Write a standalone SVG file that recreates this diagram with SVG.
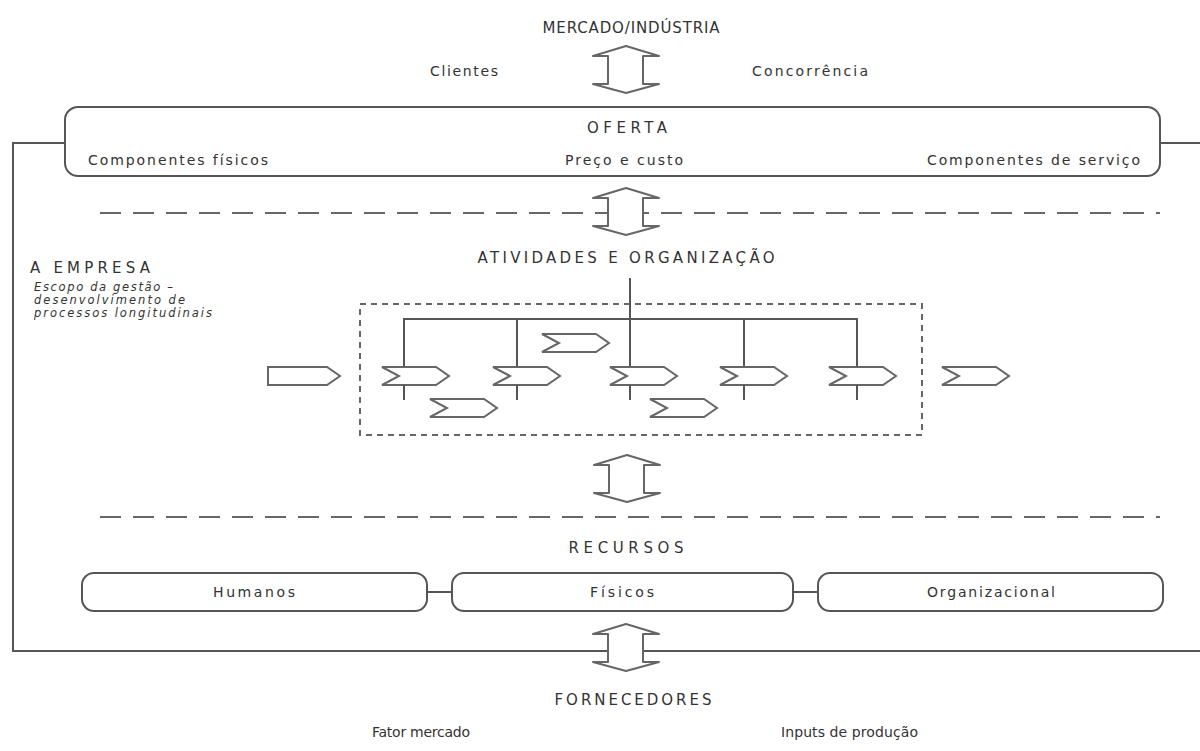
<svg xmlns="http://www.w3.org/2000/svg" width="1200" height="751" viewBox="0 0 1200 751">
<style>
text{font-family:"DejaVu Sans",Verdana,sans-serif;fill:#333;}
.cap{font-size:15px;text-anchor:middle;}
.t{font-size:14px;}
.it{font-size:11.5px;font-style:italic;}
.box{fill:#fff;stroke:#555;stroke-width:2;}
.ln{fill:none;stroke:#555;stroke-width:2;}
.dash{fill:none;stroke:#666;stroke-width:2.2;stroke-dasharray:21 12;}
.dbox{fill:none;stroke:#666;stroke-width:2;stroke-dasharray:6 5;}
.arr{fill:#fff;stroke:#666;stroke-width:2;stroke-linejoin:round;}
.chev{fill:#fff;stroke:#666;stroke-width:2;stroke-linejoin:miter;}
</style>
<defs>
<path id="chev" d="M0,0 L54,0 L67,9 L54,18 L0,18 L17,9 Z"/>
<path id="dbl" d="M-18,0 L-33,0 L0,-10 L33,0 L17,0 L17,28 L33,28 L0,37 L-33,28 L-18,28 Z"/>
</defs>

<g id="connectors">
<path class="ln" d="M65,143 H13 V651 H1200"/>
<path class="ln" d="M1160,143 H1200"/>
<path class="ln" d="M630,278 V400"/>
<path class="ln" d="M404,400 V319 H857 V400"/>
<path class="ln" d="M517,319 V400"/>
<path class="ln" d="M744,319 V400"/>
<path class="ln" d="M427,592 H452"/>
<path class="ln" d="M793,592 H818"/>
<path class="dash" d="M100,213 H1160"/>
<path class="dash" d="M100,517 H1160"/>
</g>

<g id="mercado">
<text class="cap" x="631" y="33" textLength="177" lengthAdjust="spacing">MERCADO/INDÚSTRIA</text>
<text class="t" x="430" y="76" textLength="68" lengthAdjust="spacing">Clientes</text>
<text class="t" x="752" y="76" textLength="116" lengthAdjust="spacing">Concorrência</text>
<use href="#dbl" class="arr" transform="translate(626,56)"/>
</g>

<g id="oferta">
<rect class="box" x="65" y="107" width="1095" height="69" rx="13"/>
<text class="cap" x="627" y="133" textLength="80" lengthAdjust="spacing">OFERTA</text>
<text class="t" x="88" y="165" textLength="180" lengthAdjust="spacing">Componentes físicos</text>
<text class="t" x="565" y="165" textLength="118" lengthAdjust="spacing">Preço e custo</text>
<text class="t" x="927" y="165" textLength="213" lengthAdjust="spacing">Componentes de serviço</text>
</g>

<g id="arrow-oferta-atividades">
<use href="#dbl" class="arr" transform="translate(626,198)"/>
</g>

<g id="empresa">
<text class="t" x="30" y="273" textLength="120" lengthAdjust="spacing" style="font-size:15px">A EMPRESA</text>
<text class="it" x="34" y="291" textLength="139" lengthAdjust="spacing">Escopo da gestão –</text>
<text class="it" x="34" y="304" textLength="151" lengthAdjust="spacing">desenvolvimento de</text>
<text class="it" x="34" y="317" textLength="178" lengthAdjust="spacing">processos longitudinais</text>
</g>

<g id="atividades">
<text class="cap" x="626" y="263" textLength="297" lengthAdjust="spacing">ATIVIDADES E ORGANIZAÇÃO</text>
<rect class="dbox" x="360" y="304" width="562" height="131"/>
<path class="chev" d="M268,367 L327,367 L340,376 L327,385 L268,385 Z"/>
<use href="#chev" class="chev" x="382" y="367"/>
<use href="#chev" class="chev" x="493" y="367"/>
<use href="#chev" class="chev" x="610" y="367"/>
<use href="#chev" class="chev" x="720" y="367"/>
<use href="#chev" class="chev" x="829" y="367"/>
<use href="#chev" class="chev" x="942" y="367"/>
<use href="#chev" class="chev" x="542" y="334"/>
<use href="#chev" class="chev" x="430" y="399"/>
<use href="#chev" class="chev" x="650" y="399"/>
<path class="ln" d="M404,385 V400 M517,385 V400 M630,385 V400 M744,385 V400 M857,385 V400"/>
</g>

<g id="arrow-atividades-recursos">
<use href="#dbl" class="arr" transform="translate(627,465)"/>
</g>

<g id="recursos">
<text class="cap" x="626" y="553" textLength="115" lengthAdjust="spacing">RECURSOS</text>
</g>
<g id="humanos">
<rect class="box" x="82" y="573" width="345" height="38" rx="12"/>
<text class="t" x="213" y="597" textLength="82" lengthAdjust="spacing">Humanos</text>
</g>
<g id="fisicos">
<rect class="box" x="452" y="573" width="341" height="38" rx="12"/>
<text class="t" x="590" y="597" textLength="64" lengthAdjust="spacing">Físicos</text>
</g>
<g id="organizacional">
<rect class="box" x="818" y="573" width="345" height="38" rx="12"/>
<text class="t" x="927" y="597" textLength="128" lengthAdjust="spacing">Organizacional</text>
</g>

<g id="arrow-fornecedores">
<use href="#dbl" class="arr" transform="translate(626,634)"/>
</g>

<g id="fornecedores">
<text class="cap" x="633" y="705" textLength="157" lengthAdjust="spacing">FORNECEDORES</text>
<text class="t" x="372" y="737" textLength="98" lengthAdjust="spacing">Fator mercado</text>
<text class="t" x="781" y="737" textLength="137" lengthAdjust="spacing">Inputs de produção</text>
</g>
</svg>
